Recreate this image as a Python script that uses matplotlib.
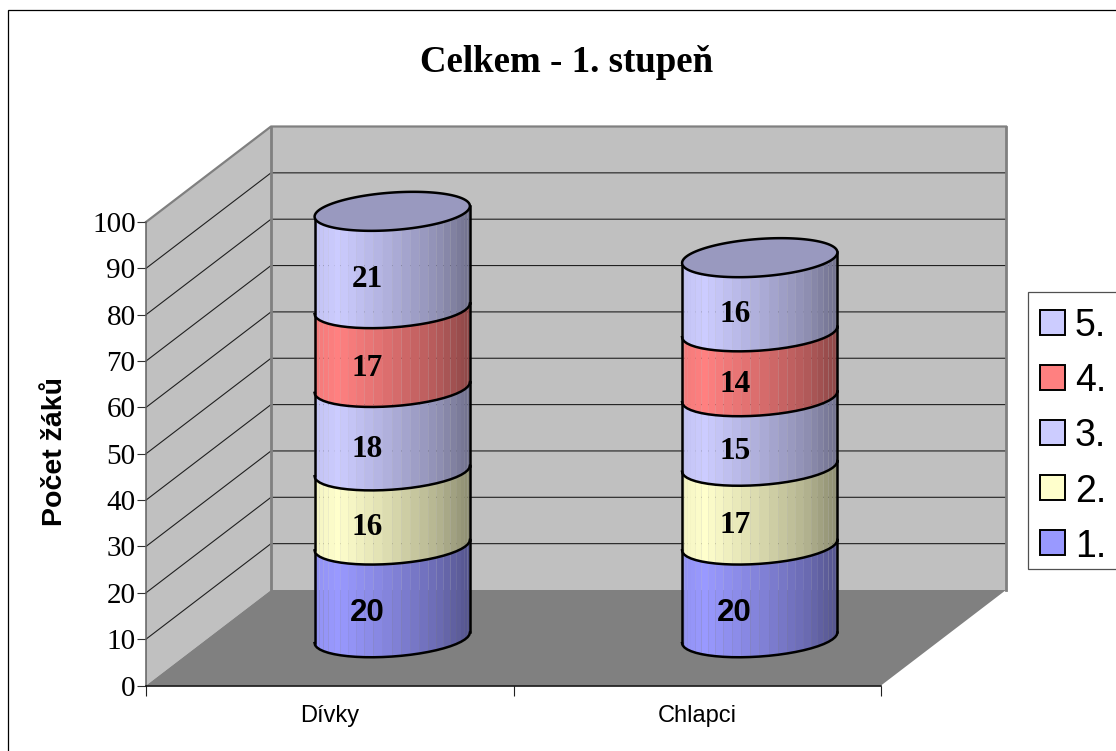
import numpy as np
import matplotlib
matplotlib.use("Agg")
import matplotlib.pyplot as plt
from matplotlib.patches import Rectangle

# --- data ---
categories = ["Dívky", "Chlapci"]
series_names = ["1.", "2.", "3.", "4.", "5."]
values_divky = [20, 16, 18, 17, 21]
values_chlapci = [20, 17, 15, 14, 16]
series_colors = ["#9999FF", "#FFFFCC", "#CCCCFF", "#FF8080", "#CCCCFF"]
label_fonts = ["Liberation Sans", "Liberation Serif", "Liberation Serif", "Liberation Serif", "Liberation Serif"]
y_ticks = list(range(0, 101, 10))

W, H = 1116, 751
SERIF = "Liberation Serif"
SANS = "Liberation Sans"

# front plane of the plot, in pixels
LEFT, RIGHT, BOTTOM, TOP = 146, 881, 685.5, 222
X_PER_PX = 2 / (RIGHT - LEFT)
Y_PER_PX = 100 / (BOTTOM - TOP)
# depth of the box
DEPTH_X = 125 * X_PER_PX
DEPTH_Y = 95.5 * Y_PER_PX
# cylinder ellipse axes
UX, UY = 77.5 * X_PER_PX, 6.5 * Y_PER_PX
VX, VY = -5 * X_PER_PX, 18.4 * Y_PER_PX


def project(x, y, z):
    return x + z * DEPTH_X, y + z * DEPTH_Y


def fig_px(x, y):
    return x / W, 1 - y / H


def shade(color, factor):
    rgb = np.array(matplotlib.colors.to_rgb(color))
    return tuple(rgb * factor)


def ellipse(cx, cy, t):
    return cx + UX * np.cos(t) + VX * np.sin(t), cy + UY * np.cos(t) + VY * np.sin(t)


def draw_segment(ax, cx, cy0, cy1, color, z):
    # visible side of a cylinder piece, built from thin strips
    t0 = np.arctan2(VX, UX)
    t = np.linspace(t0 - np.pi, t0, 27)
    xb, yb = ellipse(cx, cy0, t)
    xt, yt = ellipse(cx, cy1, t)
    u = (xb - xb.min()) / (xb.max() - xb.min())
    for i in range(len(t) - 1):
        f = np.interp((u[i] + u[i + 1]) / 2, [0, 0.15, 0.5, 0.8, 1], [0.95, 1.0, 0.85, 0.7, 0.55])
        ax.fill([xb[i], xb[i + 1], xt[i + 1], xt[i]], [yb[i], yb[i + 1], yt[i + 1], yt[i]],
                color=shade(color, f), lw=0, clip_on=False, zorder=z)
    ax.plot(xb, yb, color="black", lw=1.8, clip_on=False, zorder=z + 0.5)
    ax.plot([xb[0], xt[0]], [yb[0], yt[0]], color="black", lw=1.8, clip_on=False, zorder=z + 0.5)
    ax.plot([xb[-1], xt[-1]], [yb[-1], yt[-1]], color="black", lw=1.8, clip_on=False, zorder=z + 0.5)


fig = plt.figure(figsize=(W / 100, H / 100), dpi=100)
ax = fig.add_axes([LEFT / W, 1 - BOTTOM / H, (RIGHT - LEFT) / W, (BOTTOM - TOP) / H])
ax.set_xlim(0, 2)
ax.set_ylim(0, 100)
ax.patch.set_visible(False)

# walls and floor
xb0, yb0 = project(0, 0, 1)
xb1, yb1 = project(2, 0, 1)
xbt, ybt = project(0, 100, 1)
xrt, yrt = project(2, 100, 1)
ax.fill([0, xb0, xbt, 0], [0, yb0, ybt, 100], color="#C0C0C0", lw=0, clip_on=False, zorder=0)
ax.fill([xb0, xb1, xrt, xbt], [yb0, yb1, yrt, ybt], color="#C0C0C0", lw=0, clip_on=False, zorder=0)
ax.fill([0, 2, xb1, xb0], [0, 0, yb1, yb0], color="#808080", lw=0, clip_on=False, zorder=0.5)

# grid lines on both walls
for v in y_ticks[1:-1]:
    xa, ya = project(0, v, 1)
    xc, yc = project(2, v, 1)
    ax.plot([0, xa, xc], [v, ya, yc], color="#202020", lw=0.8, clip_on=False, zorder=1)

wall_edge = dict(color="#808080", lw=1.6, clip_on=False, zorder=1.5)
ax.plot([0, xbt, xrt], [100, ybt, yrt], **wall_edge)
ax.plot([xbt, xb0], [ybt, yb0], lw=2.0, color="#808080", clip_on=False, zorder=1.5)
ax.plot([xrt, xb1], [yrt, yb1], lw=2.0, color="#808080", clip_on=False, zorder=1.5)

# stacked cylinders
for c, vals in enumerate([values_divky, values_chlapci]):
    cx, _ = project(c + 0.5, 0, 0.5)
    _, base = project(0, 0, 0.5)
    bottom = 0
    for s, v in enumerate(vals):
        draw_segment(ax, cx, base + bottom, base + bottom + v, series_colors[s], 5 + s)
        # labels sit on the front of the cylinder
        drop = 22 if s == 0 else 20
        ax.text(cx - 25 * X_PER_PX, base + bottom + v / 2 - drop * Y_PER_PX, str(v),
                family=label_fonts[s], fontweight="bold", fontsize=22.5,
                ha="center", va="center", clip_on=False, zorder=12)
        bottom += v
    t = np.linspace(0, 2 * np.pi, 120)
    xc, yc = ellipse(cx, base + bottom, t)
    ax.fill(xc, yc, facecolor=shade(series_colors[-1], 0.75), edgecolor="black", lw=1.8,
            clip_on=False, zorder=11)

# axes
ax.spines["top"].set_visible(False)
ax.spines["right"].set_visible(False)
ax.spines["left"].set_color("#606060")
ax.spines["left"].set_linewidth(1.1)
ax.spines["bottom"].set_linewidth(1.1)
ax.set_yticks(y_ticks)
ax.set_xticks([0, 1, 2])
ax.set_xticklabels([])
ax.set_xticks([0.5, 1.5], minor=True)
ax.set_xticklabels(categories, minor=True, family=SANS, fontsize=17)
ax.tick_params(axis="x", which="major", length=7, width=0.8, color="#202020")
ax.tick_params(axis="x", which="minor", length=0, pad=14)
ax.tick_params(axis="y", length=6.5, width=0.8, color="#303030", pad=1)
for lab in ax.get_yticklabels():
    lab.set_family(SERIF)
    lab.set_fontsize(21)

# title and axis label
tx, ty = fig_px(567, 62)
fig.text(tx, ty, "Celkem - 1. stupeň", family=SERIF, fontweight="bold", fontsize=26.6, ha="center", va="center")
tx, ty = fig_px(55, 452)
fig.text(tx, ty, "Počet žáků", family=SANS, fontweight="bold", fontsize=20.5, rotation=90, ha="center", va="center")

# outer chart border runs off the right and bottom of the picture
bx, by = fig_px(8, 10)
fig.add_artist(Rectangle((bx, by - 1.2), 1.2, 1.2, transform=fig.transFigure, fill=False,
                         edgecolor="black", lw=0.9))

# legend, frame also runs off the right edge
lx, ly = fig_px(1028, 569)
fig.add_artist(Rectangle((lx, ly), 0.2, (569 - 292) / H, transform=fig.transFigure, facecolor="white",
                         edgecolor="#505050", lw=0.9, zorder=3))
for i, name in enumerate(series_names[::-1]):
    row_y = 322 + i * 55.2
    sx, sy = fig_px(1039.5, row_y + 12.5)
    fig.add_artist(Rectangle((sx, sy), 25 / W, 25 / H, transform=fig.transFigure,
                             facecolor=series_colors[::-1][i], edgecolor="black", lw=1.4, zorder=4))
    nx, ny = fig_px(1075, row_y)
    fig.text(nx, ny, name, family=SANS, fontsize=27, ha="left", va="center_baseline", zorder=5)

fig.savefig("out.png", dpi=100)
